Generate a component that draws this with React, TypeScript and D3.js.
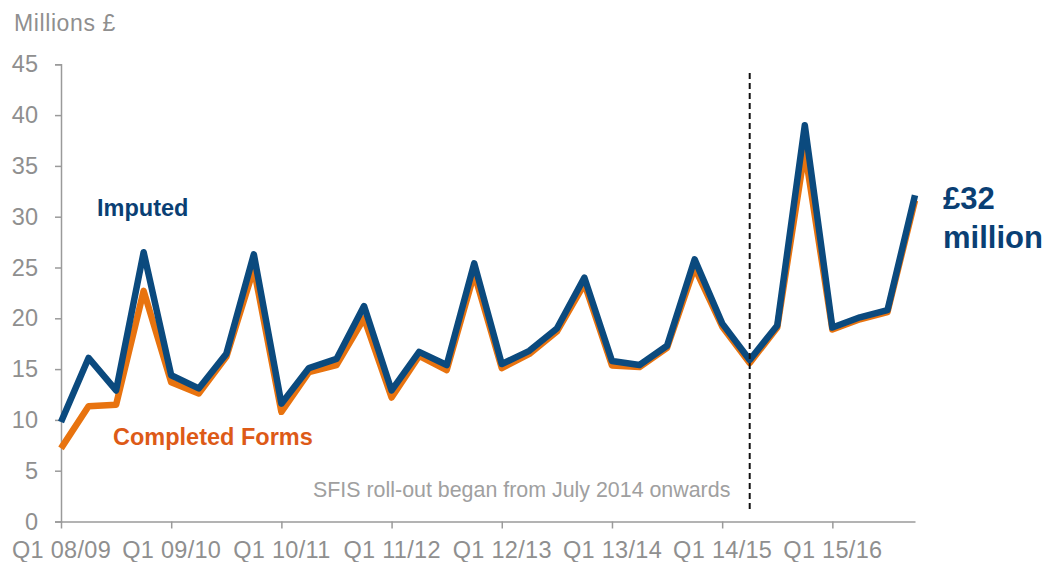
import React, { useEffect, useRef } from "react";
import * as d3 from "d3";

// quarterly values, Q1 08/09 .. Q4 15/16 (millions £)
const IMPUTED = [
  9.8, 16.1, 12.9, 26.5, 14.4, 13.1, 16.5, 26.3,
  11.6, 15.1, 16.0, 21.2, 12.9, 16.7, 15.4, 25.4,
  15.5, 16.8, 19.0, 24.0, 15.8, 15.4, 17.3, 25.8,
  19.5, 15.9, 19.3, 39.0, 19.1, 20.1, 20.8, 32.1,
];
const COMPLETED = [
  7.2, 11.35, 11.5, 22.7, 13.7, 12.6, 16.2, 24.9,
  10.8, 14.7, 15.4, 20.0, 12.2, 16.3, 14.9, 24.4,
  15.1, 16.5, 18.7, 23.4, 15.35, 15.2, 17.1, 25.0,
  19.2, 15.6, 19.1, 36.5, 18.9, 19.9, 20.6, 31.6,
];
const YEAR_LABELS = ["08/09", "09/10", "10/11", "11/12", "12/13", "13/14", "14/15", "15/16"];
const Y_TICKS = [0, 5, 10, 15, 20, 25, 30, 35, 40, 45];
const ROLLOUT_INDEX = 25; // Q2 14/15, July 2014

const BLUE = "#0b4a7e";
const ORANGE = "#e8730f";
const GREY = "#8f8f8f";
const FONT = "'Liberation Sans', Arial, sans-serif";

export default function App() {
  const svgRef = useRef<SVGSVGElement>(null);

  useEffect(() => {
    if (!svgRef.current) return;
    const svg = d3.select(svgRef.current);
    svg.selectAll("*").remove();

    const x = d3.scaleLinear().domain([0, IMPUTED.length - 1]).range([61, 915]);
    const y = d3.scaleLinear().domain([0, 45]).range([521.5, 64.3]);

    // y axis
    const ya = svg.append("g").attr("transform", "translate(61,0)")
      .call(d3.axisLeft(y).tickValues(Y_TICKS).tickSize(6).tickPadding(17).tickFormat(d3.format("d")));
    ya.select(".domain").attr("stroke", "#9a9a9a").attr("stroke-width", 1.5);
    ya.selectAll(".tick line").attr("stroke", "#9a9a9a").attr("stroke-width", 1.5);
    ya.selectAll("text").attr("fill", GREY).attr("font-size", 23.5).attr("font-family", FONT);

    // x axis
    const xa = svg.append("g").attr("transform", "translate(0,521.5)")
      .call(d3.axisBottom(x).tickValues(YEAR_LABELS.map((_, i) => i * 4)).tickSize(7).tickSizeOuter(0)
        .tickPadding(13).tickFormat((d: any) => "Q1 " + YEAR_LABELS[d / 4]));
    xa.select(".domain").attr("stroke", "#9a9a9a").attr("stroke-width", 1.5);
    xa.selectAll(".tick line").attr("stroke", "#9a9a9a").attr("stroke-width", 1.5);
    xa.selectAll("text").attr("fill", GREY).attr("font-size", 23.5).attr("font-family", FONT)
      .attr("letter-spacing", 0.3);

    svg.append("text").attr("x", 14).attr("y", 31).attr("fill", GREY).attr("letter-spacing", 0.6)
      .attr("font-size", 23).attr("font-family", FONT).text("Millions £");

    // lines
    const line = d3.line<number>().x((_, i) => x(i)).y(d => y(d));
    svg.append("path").datum(COMPLETED).attr("d", line).attr("fill", "none")
      .attr("stroke", ORANGE).attr("stroke-width", 6.5).attr("stroke-linejoin", "round");
    svg.append("path").datum(IMPUTED).attr("d", line).attr("fill", "none")
      .attr("stroke", BLUE).attr("stroke-width", 6.5).attr("stroke-linejoin", "round");

    // roll-out marker
    svg.append("line").attr("x1", x(ROLLOUT_INDEX)).attr("x2", x(ROLLOUT_INDEX))
      .attr("y1", 73).attr("y2", 512).attr("stroke", "#111").attr("stroke-width", 2)
      .attr("stroke-dasharray", "6 4");
    svg.append("text").attr("x", 313).attr("y", 497)
      .attr("fill", "#a0a0a0").attr("font-size", 21.4).attr("font-family", FONT)
      .text("SFIS roll-out began from July 2014 onwards");

    // series labels
    svg.append("text").attr("x", 97).attr("y", 216).attr("fill", "#0a3f74")
      .attr("font-size", 23.5).attr("font-weight", "bold").attr("font-family", FONT).text("Imputed");
    svg.append("text").attr("x", 113).attr("y", 445).attr("fill", "#dd5a17")
      .attr("font-size", 23.5).attr("font-weight", "bold").attr("font-family", FONT).text("Completed Forms");

    const big = svg.append("text").attr("fill", "#0a3f74").attr("font-size", 31)
      .attr("font-weight", "bold").attr("font-family", FONT);
    big.append("tspan").attr("x", 943).attr("y", 209).text("£32");
    big.append("tspan").attr("x", 943).attr("y", 248).text("million");
  }, []);

  return (
    <svg ref={svgRef} width={1050} height={562}
      style={{ position: "absolute", left: 0, top: 0, background: "#fff" }} />
  );
}
